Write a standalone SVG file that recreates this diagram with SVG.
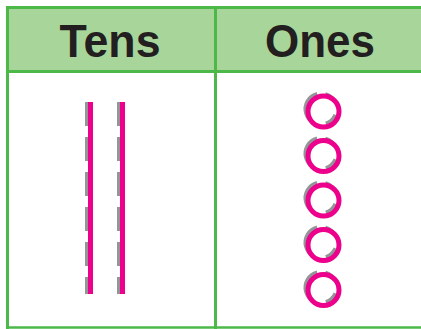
<svg xmlns="http://www.w3.org/2000/svg" width="421" height="329" viewBox="0 0 421 329">
<style>
.hdr{font-family:"Liberation Sans",Arial,sans-serif;font-weight:bold;font-size:47px;fill:#231f20;text-anchor:middle}
.grid{stroke:#4cb848;stroke-width:3;fill:none}
.gdash{stroke:#939598;stroke-width:5;stroke-dasharray:24 11;fill:none}
.rod{stroke:#ec008c;stroke-width:5;fill:none}
.gring{stroke:#939598;stroke-width:4;fill:none;stroke-dasharray:36.5 8.1 12.2 13.5 13.5 13.5}
.ring{stroke:#ec008c;stroke-width:5;fill:none}
</style>
<rect x="0" y="0" width="421" height="329" fill="#ffffff"/>
<g id="table">
<rect x="7.5" y="7.5" width="420" height="64" fill="#a8d69a"/>
<path class="grid" d="M7.5 7.5H424M7.5 71.5H424M7.5 6V329M215.5 6V329"/>
<path d="M7.5 327.5H424" stroke="#4cb848" stroke-width="2.5"/>
</g>
<g id="tens-header"><text class="hdr" x="110" y="57" textLength="101" lengthAdjust="spacingAndGlyphs">Tens</text></g>
<g id="ones-header"><text class="hdr" x="320" y="57" textLength="110" lengthAdjust="spacingAndGlyphs">Ones</text></g>
<g id="tens">
<path class="gdash" d="M87.5 102V294M119.5 102V294"/>
<path class="rod" d="M90.5 102V294M122.5 102V294"/>
</g>
<g id="ones">
<g transform="translate(323.5,111.5)"><circle class="gring" cx="-2.5" cy="-2.5" r="15.5" transform="rotate(120 -2.5 -2.5)"/><circle class="ring" r="15.5"/></g>
<g transform="translate(323.5,156)"><circle class="gring" cx="-2.5" cy="-2.5" r="15.5" transform="rotate(120 -2.5 -2.5)"/><circle class="ring" r="15.5"/></g>
<g transform="translate(323.5,200.5)"><circle class="gring" cx="-2.5" cy="-2.5" r="15.5" transform="rotate(120 -2.5 -2.5)"/><circle class="ring" r="15.5"/></g>
<g transform="translate(323.5,245)"><circle class="gring" cx="-2.5" cy="-2.5" r="15.5" transform="rotate(120 -2.5 -2.5)"/><circle class="ring" r="15.5"/></g>
<g transform="translate(323.5,290)"><circle class="gring" cx="-2.5" cy="-2.5" r="15.5" transform="rotate(120 -2.5 -2.5)"/><circle class="ring" r="15.5"/></g>
</g>
</svg>
